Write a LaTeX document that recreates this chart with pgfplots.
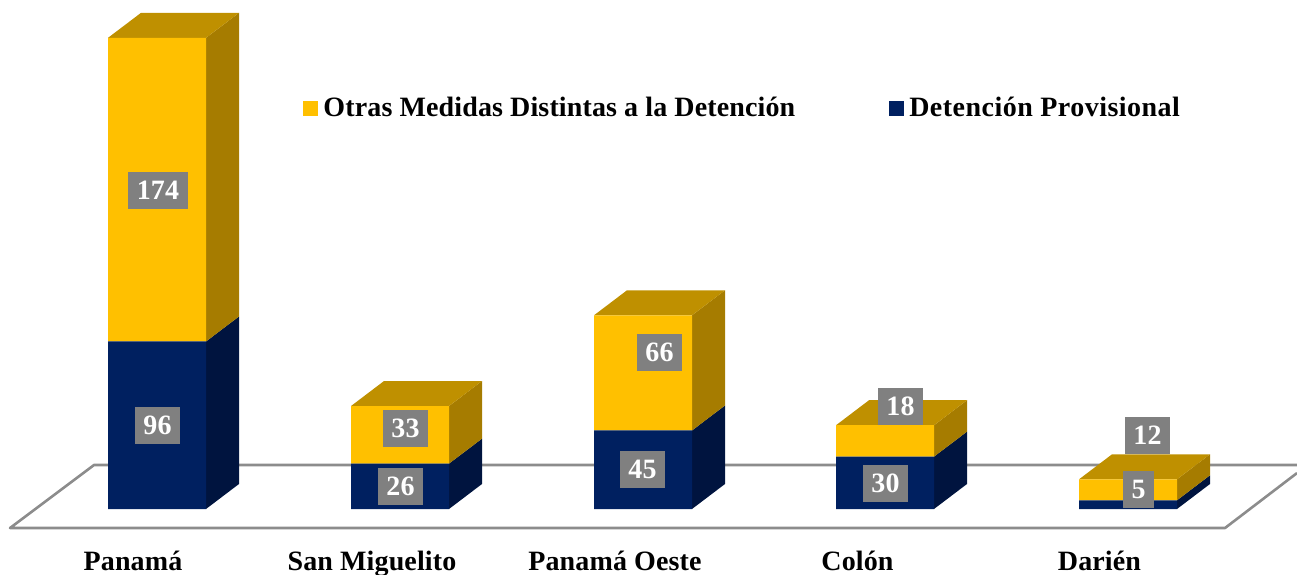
\documentclass[border=0pt]{standalone}
\usepackage{fontspec}
\setmainfont[LetterSpace=0.5,BoldFont={Liberation Serif Bold}]{Liberation Serif}
\usepackage{pgfplots}
\pgfplotsset{compat=1.18}
\definecolor{navyf}{HTML}{002060}
\definecolor{navys}{HTML}{00143F}
\definecolor{goldf}{HTML}{FFC000}
\definecolor{golds}{HTML}{A67C00}
\definecolor{goldt}{HTML}{BF9000}
\definecolor{lab}{HTML}{808080}
\definecolor{floorc}{HTML}{8C8C8C}
\pgfplotsset{base/.style={
  scale only axis,width=648.5pt,height=287pt,
  xmin=0,xmax=1297,ymin=-37.25,ymax=291.69,
  axis line style={draw=none},tick style={draw=none},
  ytick=\empty,
  xtick=\empty,
}}
\tikzset{val/.style={fill=lab,text=white,font=\fontsize{14}{16}\selectfont\bfseries,inner sep=0pt,minimum height=18.5pt,minimum width=22.5pt,anchor=center}}
\begin{document}
\begin{tikzpicture}
\path[use as bounding box] (0,0) rectangle (648.5pt,287pt);
\begin{axis}[base,at={(0,0)},anchor=south west,
  xtick={133,372,615,857.5,1099.5},
  xticklabels={Panamá,San Miguelito,Panamá Oeste,Colón,Darién},
  xticklabel style={font=\fontsize{14}{16}\selectfont\bfseries,anchor=base,yshift=1.7pt},
  major tick length=0pt,
  xtick pos=bottom]
% floor
\addplot[draw=floorc,line width=1.3pt,line join=round] coordinates {(1297,25.2) (94,25.2) (10,-10.9) (1225,-10.9) (1297,20.6)};
% side and top faces
\addplot[fill=navys,draw=none] coordinates {(206,0)(239,14.33)(239,110.33)(206,96)} --cycle;
\addplot[fill=golds,draw=none] coordinates {(206,96)(239,110.33)(239,284.33)(206,270)} --cycle;
\addplot[fill=goldt,draw=none] coordinates {(108,270)(206,270)(239,284.33)(141,284.33)} --cycle;
\addplot[fill=navys,draw=none] coordinates {(449,0)(482,14.33)(482,40.33)(449,26)} --cycle;
\addplot[fill=golds,draw=none] coordinates {(449,26)(482,40.33)(482,73.33)(449,59)} --cycle;
\addplot[fill=goldt,draw=none] coordinates {(351,59)(449,59)(482,73.33)(384,73.33)} --cycle;
\addplot[fill=navys,draw=none] coordinates {(692,0)(725,14.33)(725,59.33)(692,45)} --cycle;
\addplot[fill=golds,draw=none] coordinates {(692,45)(725,59.33)(725,125.33)(692,111)} --cycle;
\addplot[fill=goldt,draw=none] coordinates {(594,111)(692,111)(725,125.33)(627,125.33)} --cycle;
\addplot[fill=navys,draw=none] coordinates {(934,0)(967,14.33)(967,44.33)(934,30)} --cycle;
\addplot[fill=golds,draw=none] coordinates {(934,30)(967,44.33)(967,62.33)(934,48)} --cycle;
\addplot[fill=goldt,draw=none] coordinates {(836,48)(934,48)(967,62.33)(869,62.33)} --cycle;
\addplot[fill=navys,draw=none] coordinates {(1177,0)(1210,14.33)(1210,19.33)(1177,5)} --cycle;
\addplot[fill=golds,draw=none] coordinates {(1177,5)(1210,19.33)(1210,31.33)(1177,17)} --cycle;
\addplot[fill=goldt,draw=none] coordinates {(1079,17)(1177,17)(1210,31.33)(1112,31.33)} --cycle;
\end{axis}
\begin{axis}[base,at={(0,0)},anchor=south west,
  ybar stacked,bar width=49pt,
  legend style={at={(axis cs:303,229.4)},anchor=west,draw=none,fill=none,
    font=\fontsize{14}{16}\selectfont\bfseries,
    /tikz/every even column/.style={column sep=46pt},
    /tikz/every odd column/.style={column sep=1.5pt},
    inner sep=0pt,nodes={inner sep=1pt}},
  legend columns=2,legend cell align=left,
  legend image code/.code={\fill[#1] (0,-3.75pt) rectangle (7.5pt,3.75pt);}]
\addlegendimage{fill=goldf,draw=none}
\addlegendentry{Otras Medidas Distintas a la Detención}
\addlegendimage{fill=navyf,draw=none}
\addlegendentry{\addfontfeature{LetterSpace=1.7}Detención Provisional}
\addplot[fill=navyf,draw=none,forget plot] coordinates {(157,96)(400,26)(643,45)(885,30)(1128,5)};
\addplot[fill=goldf,draw=none,forget plot] coordinates {(157,174)(400,33)(643,66)(885,18)(1128,12)};
\end{axis}
\begin{axis}[base,at={(0,0)},anchor=south west]
\addplot[draw=none,forget plot] coordinates {(0,0)};
\node[val,minimum width=30pt] at (axis cs:158,182.5) {174};
\node[val] at (axis cs:157.5,47.85) {96};
\node[val] at (axis cs:405.5,46.1) {33};
\node[val] at (axis cs:400.5,12.9) {26};
\node[val] at (axis cs:659.5,89.7) {66};
\node[val] at (axis cs:642.5,22.6) {45};
\node[val] at (axis cs:900.5,58.7) {18};
\node[val] at (axis cs:885.5,14.6) {30};
\node[val] at (axis cs:1147.5,42.1) {12};
\node[val,minimum width=15.5pt] at (axis cs:1138.5,11.2) {5};
\end{axis}
\end{tikzpicture}
\end{document}
